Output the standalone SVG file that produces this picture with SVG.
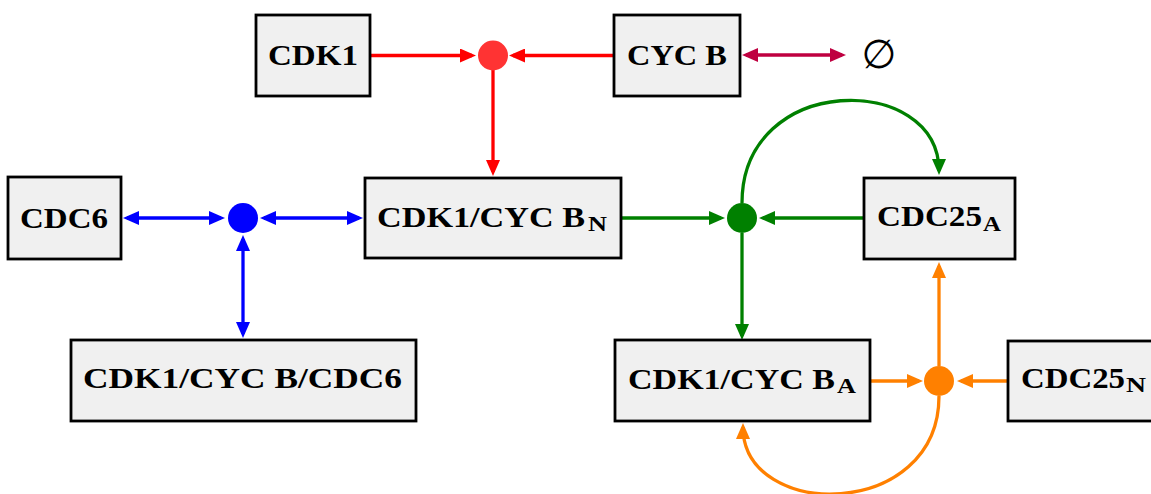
<svg xmlns="http://www.w3.org/2000/svg" width="1151" height="494" viewBox="0 0 1151 494">
<style>
.box{fill:#f0f0f0;stroke:#000;stroke-width:2.8}
.lbl{font-family:"Liberation Serif","DejaVu Serif",serif;font-weight:bold;font-size:30px;fill:#000}
.sub{font-family:"Liberation Serif","DejaVu Serif",serif;font-weight:bold;font-size:20px;fill:#000}
.c{fill:none;stroke-width:3.3}
.red{stroke:#ff0000}
.pur{stroke:#bf0040}
.blu{stroke:#0000ff}
.grn{stroke:#008000}
.org{stroke:#ff8000}
</style>
<defs>
<marker id="mr" viewBox="0 0 16 14" refX="12" refY="7" markerWidth="16" markerHeight="14" markerUnits="userSpaceOnUse" orient="auto-start-reverse"><path d="M0,0 L16,7 L0,14 z" fill="#ff0000"/></marker>
<marker id="mp" viewBox="0 0 16 14" refX="12" refY="7" markerWidth="16" markerHeight="14" markerUnits="userSpaceOnUse" orient="auto-start-reverse"><path d="M0,0 L16,7 L0,14 z" fill="#bf0040"/></marker>
<marker id="mb" viewBox="0 0 16 14" refX="12" refY="7" markerWidth="16" markerHeight="14" markerUnits="userSpaceOnUse" orient="auto-start-reverse"><path d="M0,0 L16,7 L0,14 z" fill="#0000ff"/></marker>
<marker id="mg" viewBox="0 0 16 14" refX="12" refY="7" markerWidth="16" markerHeight="14" markerUnits="userSpaceOnUse" orient="auto-start-reverse"><path d="M0,0 L16,7 L0,14 z" fill="#008000"/></marker>
<marker id="mo" viewBox="0 0 16 14" refX="12" refY="7" markerWidth="16" markerHeight="14" markerUnits="userSpaceOnUse" orient="auto-start-reverse"><path d="M0,0 L16,7 L0,14 z" fill="#ff8000"/></marker>
</defs>

<g id="connectors">
<path class="c red" d="M370,55.5 H472" marker-end="url(#mr)"/>
<path class="c red" d="M614,55.5 H513" marker-end="url(#mr)"/>
<path class="c red" d="M493,70 V172" marker-end="url(#mr)"/>
<path class="c pur" d="M746,55 H842" marker-start="url(#mp)" marker-end="url(#mp)"/>
<path class="c blu" d="M127,218 H221" marker-start="url(#mb)" marker-end="url(#mb)"/>
<path class="c blu" d="M264,218 H359" marker-start="url(#mb)" marker-end="url(#mb)"/>
<path class="c blu" d="M243,239 V334" marker-start="url(#mb)" marker-end="url(#mb)"/>
<path class="c grn" d="M621,218 H721" marker-end="url(#mg)"/>
<path class="c grn" d="M864,218 H763" marker-end="url(#mg)"/>
<path class="c grn" d="M742,233 V336" marker-end="url(#mg)"/>
<path class="c grn" d="M742,203 C742,72 939,72 939,171" marker-end="url(#mg)"/>
<path class="c org" d="M870,381 H919" marker-end="url(#mo)"/>
<path class="c org" d="M1008,381 H961" marker-end="url(#mo)"/>
<path class="c org" d="M939,366 V266" marker-end="url(#mo)"/>
<path class="c org" d="M939,396 C939,521 743,521 743,427" marker-end="url(#mo)"/>
</g>

<g id="dot-red"><circle cx="493" cy="55.5" r="15" fill="#ff3333"/></g>
<g id="dot-blue"><circle cx="243" cy="218" r="15" fill="#0000ff"/></g>
<g id="dot-green"><circle cx="742" cy="218" r="15" fill="#008000"/></g>
<g id="dot-orange"><circle cx="939" cy="381" r="15" fill="#ff8000"/></g>

<g id="cdk1">
<rect class="box" x="256" y="15" width="114" height="81"/>
<text class="lbl" x="268" y="65" textLength="90" lengthAdjust="spacingAndGlyphs">CDK1</text>
</g>
<g id="cycb">
<rect class="box" x="614" y="15" width="126" height="81"/>
<text class="lbl" x="627" y="65" textLength="100" lengthAdjust="spacingAndGlyphs">CYC B</text>
</g>
<g id="null">
<text x="879" y="68" text-anchor="middle" font-family="DejaVu Sans, sans-serif" font-size="40" fill="#000">∅</text>
</g>
<g id="cdc6">
<rect class="box" x="8" y="177" width="113" height="82"/>
<text class="lbl" x="20" y="228" textLength="88" lengthAdjust="spacingAndGlyphs">CDC6</text>
</g>
<g id="cdk1cycbn">
<rect class="box" x="365" y="178" width="256" height="80"/>
<text class="lbl" x="377" y="227" textLength="208" lengthAdjust="spacingAndGlyphs">CDK1/CYC B</text>
<text class="sub" x="588" y="231" textLength="19" lengthAdjust="spacingAndGlyphs">N</text>
</g>
<g id="cdc25a">
<rect class="box" x="864" y="178" width="151" height="81"/>
<text class="lbl" x="877" y="226" textLength="105" lengthAdjust="spacingAndGlyphs">CDC25</text>
<text class="sub" x="983" y="230.5" textLength="18" lengthAdjust="spacingAndGlyphs">A</text>
</g>
<g id="cdk1cycbcdc6">
<rect class="box" x="71" y="340" width="345" height="81"/>
<text class="lbl" x="83" y="388" textLength="319" lengthAdjust="spacingAndGlyphs">CDK1/CYC B/CDC6</text>
</g>
<g id="cdk1cycba">
<rect class="box" x="615" y="340" width="255" height="81"/>
<text class="lbl" x="628" y="389" textLength="207" lengthAdjust="spacingAndGlyphs">CDK1/CYC B</text>
<text class="sub" x="837" y="393" textLength="19" lengthAdjust="spacingAndGlyphs">A</text>
</g>
<g id="cdc25n">
<rect class="box" x="1008" y="341" width="160" height="80"/>
<text class="lbl" x="1021" y="388" textLength="104" lengthAdjust="spacingAndGlyphs">CDC25</text>
<text class="sub" x="1126" y="392" textLength="20" lengthAdjust="spacingAndGlyphs">N</text>
</g>
</svg>
